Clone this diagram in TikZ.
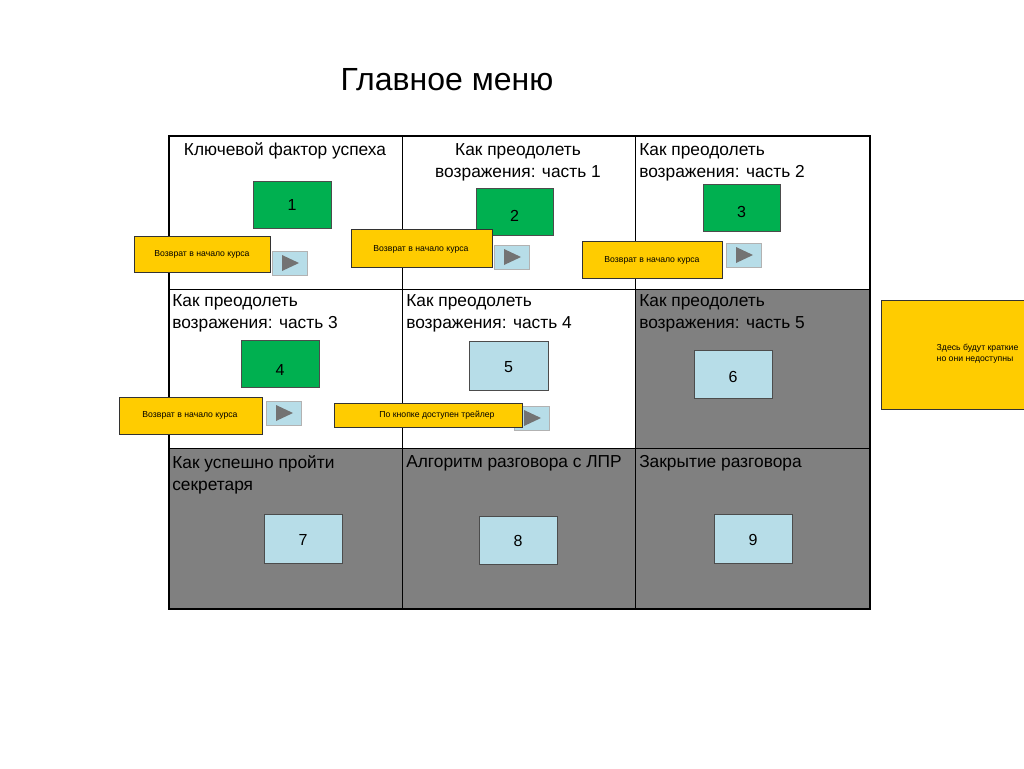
\documentclass[tikz,border=0pt]{standalone}
\usepackage{fontspec}
\setmainfont{Liberation Sans}
\begin{document}
\begin{tikzpicture}[x=0.75pt,y=-0.75pt,
  cell/.style={anchor=north west,inner sep=0pt,font=\fontsize{13}{16.5}\selectfont,align=left},
  gbox/.style={draw=black!70,fill=green!65!black!90!white,line width=0.5pt},
  bbox/.style={draw=black!70,fill=cyan!25!white!90!gray,line width=0.5pt},
  ylab/.style={draw=black!80,fill=yellow!80!orange,line width=0.6pt},
  yt/.style={font=\fontsize{6.5}{8}\selectfont},
  numt/.style={font=\fontsize{12}{14}\selectfont}]
\definecolor{gbg}{RGB}{0,176,80}
\definecolor{lb}{RGB}{183,221,232}
\definecolor{yl}{RGB}{255,204,0}
\definecolor{cg}{RGB}{128,128,128}
\useasboundingbox (0,0) rectangle (1024,768);
\node[font=\fontsize{24}{28}\selectfont] (title) at (447,80) {Главное меню};
% gray cells
\fill[cg] (635,289) rectangle (870,448);
\fill[cg] (169,448) rectangle (870,609);
\draw[line width=1pt] (169,136) rectangle (870,609);
\draw[line width=0.6pt] (402,136) -- (402,609) (635,136) -- (635,609)
  (169,289) -- (870,289) (169,448) -- (870,448);
% texts
\node[font=\fontsize{13}{16}\selectfont] (t1) at (285,151) {Ключевой фактор успеха};
\node[font=\fontsize{13}{16.5}\selectfont,align=center] (t2) at (518,162) {Как преодолеть\\возражения: часть 1};
\node[cell] (t3) at (639,143) {Как преодолеть\\возражения: часть 2};
\node[cell] (t4) at (172,294) {Как преодолеть\\возражения: часть 3};
\node[cell] (t5) at (406,294) {Как преодолеть\\возражения: часть 4};
\node[cell] (t6) at (639,294) {Как преодолеть\\возражения: часть 5};
\node[cell] (t7) at (172,455) {Как успешно пройти\\секретаря};
\node[cell] (t8) at (406,455) {Алгоритм разговора с ЛПР};
\node[cell] (t9) at (639,455) {Закрытие разговора};
% numbered boxes
\foreach \n/\xa/\ya/\xb/\yb/\c/\ty in {1/253/181/331/228/gbg/205, 2/476/188/553/235/gbg/216, 3/703/184/780/231/gbg/212, 4/241/340/319/387/gbg/370, 5/469/341/548/390/lb/367, 6/694/350/772/398/lb/377, 7/264/514/342/563/lb/540, 8/479/516/557/564/lb/541, 9/714/514/792/563/lb/540}{
  \filldraw[fill=\c,draw=black!70,line width=0.5pt] (\xa,\ya) rectangle (\xb,\yb);
  \node[numt] (n\n) at ({(\xa+\xb)/2},\ty) {\n};
}
% play buttons
\foreach \k/\xa/\ya in {1/272/251,2/494/245,3/726/243,4/266/401,5/514/406}{
  \filldraw[fill=lb,draw=gray!60,line width=0.6pt] (\xa,\ya) rectangle ++(35,24);
  \fill[gray!90!black] ({\xa+10},{\ya+4}) -- ({\xa+10},{\ya+20}) -- ({\xa+27},{\ya+12}) -- cycle;
}
% yellow labels
\foreach \k/\xa/\ya/\xb/\yb/\txt in {1/134/236/270/272/Возврат в начало курса, 2/351/229/492/267/Возврат в начало курса, 3/582/241/722/278/Возврат в начало курса, 4/119/397/262/434/Возврат в начало курса, 5/334/403/522/427/По кнопке доступен трейлер}{
  \filldraw[fill=yl,draw=black!80,line width=0.6pt] (\xa,\ya) rectangle (\xb,\yb);
}
\node[yt] (y1) at (202,254) {Возврат в начало курса};
\node[yt] (y2) at (421,249) {Возврат в начало курса};
\node[yt] (y3) at (652,260) {Возврат в начало курса};
\node[yt] (y4) at (190,415) {Возврат в начало курса};
\node[yt] (y5) at (437,415) {По кнопке доступен трейлер};
\filldraw[fill=yl,draw=black!80,line width=0.6pt] (881,300) rectangle (1030,409);
\node[yt,anchor=west,align=left] (yr) at (932,354) {Здесь будут краткие\\но они недоступны};
\end{tikzpicture}
\end{document}
